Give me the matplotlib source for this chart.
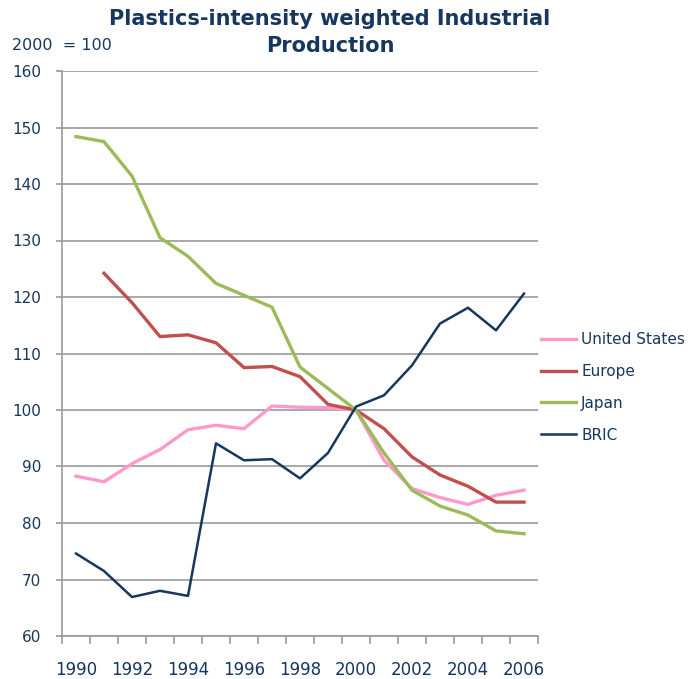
import matplotlib
matplotlib.use("Agg")
import matplotlib.pyplot as plt
import numpy as np

years = list(range(1990, 2007))
united_states = [88.3, 87.3, 90.5, 93.0, 96.5, 97.3, 96.7, 100.7, 100.5, 100.4, 100.0,
                 91.1, 86.1, 84.5, 83.3, 84.9, 85.8]
europe = [None, 124.2, 119.0, 113.0, 113.3, 111.9, 107.5, 107.7, 105.9, 101.0, 100.0,
          96.7, 91.7, 88.5, 86.5, 83.7, 83.7]
japan = [148.4, 147.5, 141.4, 130.5, 127.2, 122.4, 120.3, 118.2, 107.6, 103.8, 100.0,
         92.4, 85.8, 83.0, 81.4, 78.6, 78.1]
bric = [74.6, 71.5, 66.9, 68.0, 67.1, 94.1, 91.1, 91.3, 87.9, 92.4, 100.6,
        102.6, 107.9, 115.3, 118.1, 114.1, 120.6]

series = [
    ("United States", united_states, "#FF99CC", 2.4),
    ("Europe", europe, "#C0504D", 2.4),
    ("Japan", japan, "#9BBB59", 2.4),
    ("BRIC", bric, "#17375E", 1.8),
]

text_color = "#17375E"
grid_color = "#9A9A9A"

plt.rcParams["font.family"] = ["DejaVu Sans"]

W, H = 690, 679
fig = plt.figure(figsize=(W / 100, H / 100), dpi=100)
ax = fig.add_axes([62 / W, 1 - 636 / H, 476 / W, 565 / H])

x = np.arange(len(years))
for name, vals, color, lw in series:
    y = np.array([np.nan if v is None else v for v in vals], dtype=float)
    ax.plot(x, y, color=color, lw=lw, label=name, solid_joinstyle="round")

ax.set_xlim(-0.5, len(years) - 0.5)
ax.set_ylim(60, 160)
ax.set_yticks(np.arange(60, 161, 10))
ax.yaxis.grid(True, color=grid_color, lw=1.2)
ax.set_axisbelow(True)

# category boundaries carry the tick marks, labels sit under every other year
ax.set_xticks(np.arange(-0.5, len(years), 1.0))
ax.set_xticklabels([])
ax.set_xticks(x[::2], minor=True)
ax.set_xticklabels([str(v) for v in years[::2]], minor=True)
ax.tick_params(axis="x", which="major", direction="out", length=6, width=1.2, color=grid_color)
ax.tick_params(axis="x", which="minor", length=0, pad=18, labelsize=12, labelcolor=text_color)
ax.tick_params(axis="y", direction="out", length=4, width=1.2, color=grid_color,
               labelsize=11, labelcolor=text_color, pad=11)

for side in ("top", "right"):
    ax.spines[side].set_visible(False)
for side in ("left", "bottom"):
    ax.spines[side].set_color(grid_color)
    ax.spines[side].set_linewidth(1.2)

for line, base in (("Plastics-intensity weighted Industrial", 25), ("Production", 52)):
    fig.text(330 / W, 1 - base / H, line, ha="center", va="baseline",
             fontsize=15, fontweight="bold", color=text_color)
fig.text(12 / W, 1 - 50 / H, "2000  = 100", ha="left", va="baseline",
         fontsize=11.5, color=text_color)

leg = ax.legend(loc="center left", bbox_to_anchor=(1.006, 0.44), frameon=False,
                fontsize=11, handlelength=2.3, labelspacing=1.1, handletextpad=0.33,
                borderpad=0.0, borderaxespad=0.0)
for t in leg.get_texts():
    t.set_color(text_color)

fig.savefig("out.png", dpi=100)
